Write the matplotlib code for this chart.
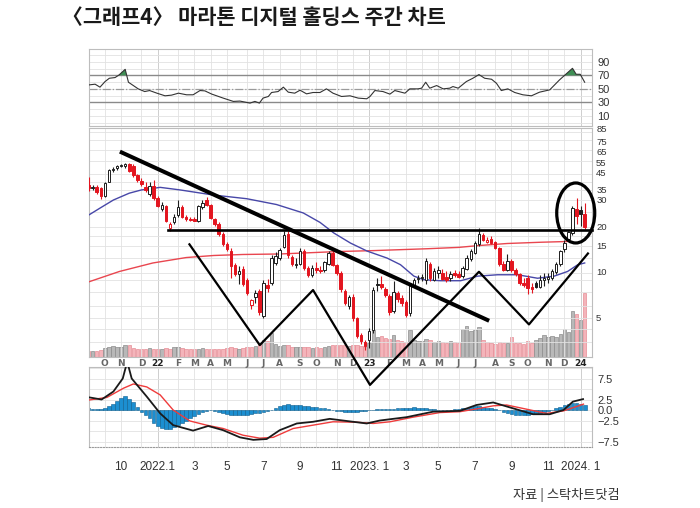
import numpy as np
import pandas as pd
import matplotlib
matplotlib.use('Agg')
import matplotlib.pyplot as plt
from matplotlib import font_manager
from matplotlib.patches import Ellipse
from matplotlib.ticker import NullFormatter

plt.rcParams['font.family'] = ['Noto Sans CJK KR', 'DejaVu Sans']
installed = {f.name for f in font_manager.fontManager.ttflist}
NARROW = 'Liberation Sans Narrow' if 'Liberation Sans Narrow' in installed else 'Liberation Sans'

TITLE = '〈그래프4〉 마라톤 디지털 홀딩스 주간 차트'
SOURCE = '자료 | 스탁차트닷컴'

# weekly candles from the week of 2021-09-06
FIRST_WEEK = '2021-09-06'
opens = [38, 36, 37, 36, 32, 40, 47.5, 49, 50.5, 50.5,
         52, 51, 44, 40.5, 37, 33, 37.5, 31, 26.5, 27.5,
         19.6, 21.5, 24, 27, 23.5, 22.8, 22.8, 22, 27, 30,
         28, 22.5, 21, 18, 15.5, 14, 11.3, 9.8, 10.6, 8.9,
         6.1, 6.9, 7.6, 5.2, 8.3, 8.6, 11.6, 12.6, 14.8, 18,
         12.8, 11.3, 11.5, 14, 10.7, 9.6, 10.7, 10.4, 10.4, 11.5,
         13.6, 11.3, 10, 7.6, 6.0, 6.9, 5.0, 3.9, 3.5, 3.6,
         4.2, 8.4, 8.4, 7.8, 7.0, 5.6, 7.4, 6.8, 6.4, 5.4,
         8.3, 9.1, 9.2, 9.0, 11.5, 9.0, 9.9, 9.9, 9.4, 9.2,
         9.9, 9.8, 9.5, 10.6, 12.3, 13.6, 15.4, 17.8, 15.9, 16.8,
         15.9, 14.6, 11.5, 10.5, 12.0, 10.5, 9.8, 8.6, 9.2, 8.1,
         8.6, 8.1, 8.9, 9.1, 9.2, 10.1, 11.4, 14.3, 16.6, 18.2,
         26.5, 26, 24.3]
highs = [43, 38, 38, 37, 40, 48.5, 50, 51.5, 52, 53,
         53, 52, 45, 42, 39.5, 40, 41, 32, 29.5, 28,
         21.5, 24.5, 30, 28, 24, 23.5, 23.2, 28, 30, 31.5,
         28.5, 23, 21.5, 18.5, 16, 14.5, 11.6, 11, 11, 9.2,
         6.7, 7.7, 7.8, 9, 9.1, 13, 13.8, 14.5, 18.8, 19,
         13, 12.5, 14.5, 14.4, 11, 11.2, 11.8, 11, 12, 14,
         14, 11.5, 10.3, 7.8, 7.1, 7.2, 5.1, 4.0, 3.6, 4.3,
         8.0, 9.2, 9.5, 8.0, 7.2, 8.8, 7.6, 7.1, 6.6, 8.6,
         9.3, 9.6, 9.8, 12.5, 11.8, 10.8, 11, 10.6, 10.3, 10.2,
         10.4, 10.3, 11, 13, 14.3, 16.3, 19.8, 18.3, 17.2, 17.5,
         16.2, 14.9, 12, 13.2, 12.3, 10.8, 10, 9.2, 9.6, 8.5,
         8.8, 9.7, 9.9, 10.0, 10.6, 11.8, 14.2, 16.5, 19, 27.5,
         31, 27.5, 29]
lows = [34.5, 35, 33, 30.5, 31.5, 39.5, 46.5, 48, 50, 49,
        46, 43, 40, 37.5, 34, 32, 30, 27, 25.5, 21.5,
        19, 21, 23.5, 23, 22, 22, 21.8, 21.5, 26.5, 27.5,
        22.5, 20.5, 17.5, 15, 14, 9.2, 9.5, 8.4, 8.2, 7.1,
        5.8, 6.3, 5.3, 5.0, 7.5, 8.3, 11.2, 12.2, 14.5, 12.5,
        11, 10.8, 11.2, 10.5, 9.4, 9.4, 10, 10, 10.1, 11.2,
        11, 9.6, 7.5, 6.1, 5.8, 4.8, 3.7, 3.4, 3.1, 3.2,
        4.0, 7.6, 7.8, 6.9, 5.3, 5.4, 6.4, 6.0, 5.1, 5.2,
        8.0, 8.6, 8.8, 8.4, 8.8, 8.8, 9.2, 8.9, 8.7, 8.8,
        9.4, 9.3, 9.2, 10.4, 12, 13.3, 15, 16.2, 15.6, 15.5,
        14.3, 11.0, 10.2, 10.2, 10.1, 9.5, 8.3, 8.0, 7.2, 7.4,
        7.9, 7.9, 8.2, 8.6, 8.9, 9.8, 11.1, 13.8, 16.2, 17.8,
        21, 20.5, 19.5]
closes = [36, 37, 34, 32, 39, 47.5, 48.5, 50.5, 51, 52,
          47, 44, 41, 38.5, 35, 37.5, 31, 27.5, 28, 22,
          21, 23.5, 27, 23.5, 22.5, 22.4, 22, 27.5, 29, 28,
          23, 21, 18, 15.5, 14.3, 11, 9.8, 10.2, 8.4, 7.4,
          6.6, 7.3, 5.5, 8.6, 7.9, 12.5, 12.9, 14.2, 17.8, 13,
          11.4, 11.5, 14, 10.8, 9.6, 10.7, 10.4, 10.3, 11.8, 13.6,
          11.3, 10, 7.8, 6.3, 6.9, 5.0, 3.85, 3.55, 3.3, 4.1,
          7.7, 8.3, 8.1, 7.1, 5.5, 7.5, 6.7, 6.3, 5.3, 8.3,
          9.0, 9.2, 9.4, 11.9, 9.2, 10.3, 10.5, 9.1, 9.0, 9.8,
          9.7, 9.4, 10.7, 12.5, 13.9, 15.7, 17.9, 16.5, 16.4, 15.8,
          14.6, 11.4, 10.5, 11.9, 10.4, 9.8, 8.5, 8.3, 7.9, 7.8,
          8.0, 9.0, 9.2, 9.4, 10.2, 11.5, 13.9, 15.8, 18.6, 26.7,
          23.7, 24.3, 19.9]
# million shares
volumes = [30, 28, 32, 35, 45, 50, 55, 52, 48, 60,
           62, 45, 42, 40, 38, 45, 42, 38, 40, 45,
           42, 48, 50, 45, 40, 38, 40, 42, 45, 42,
           40, 38, 40, 42, 45, 48, 45, 42, 45, 48,
           50, 55, 70, 85, 80, 120, 65, 55, 60, 58,
           50, 48, 50, 52, 48, 45, 50, 45, 50, 55,
           60, 58, 62, 60, 55, 62, 60, 55, 50, 70,
           135, 100, 105, 95, 90, 110, 85, 80, 75, 135,
           85, 80, 80, 90, 85, 75, 80, 75, 70, 80,
           75, 70, 140, 155, 130, 135, 150, 85, 75, 70,
           65, 75, 70, 68, 100, 70, 72, 65, 80, 70,
           85, 95, 110, 100, 105, 100, 115, 140, 125, 230,
           215, 185, 320]

ma_short_weeks = [0, 2.8, 6.1, 10, 13, 17.6, 22.5, 30.6, 38.9, 46.2, 52.8, 56.9,
                  60.3, 64.4, 68.5, 73.4, 76.7, 80, 82.4, 86.5, 91.5, 95.7, 100.6,
                  105.5, 110.4, 114.5, 117.8, 120.3, 122]
ma_short = [24.0, 26.7, 30.2, 33.5, 35.2, 36.6, 35.2, 32.6, 30.8, 28.2, 24.8, 21.5,
            18.3, 15.7, 13.9, 12.5, 11.3, 9.5, 9.0, 8.86, 8.86, 9.5, 9.7,
            9.7, 9.2, 9.5, 10.2, 11.3, 11.6]
ma_long_weeks = [0, 7.6, 15.8, 24, 30.8, 38, 47, 61.3, 70, 83.2, 91, 95.7, 103, 111.3, 118.5]
ma_long = [8.7, 10.2, 11.6, 12.6, 13.0, 13.2, 13.3, 13.8, 14.0, 14.4, 14.7, 15.1, 15.6, 15.9, 16.1]

rsi_weeks = [0.2, 1.6, 2.8, 4.05, 5.1, 6.5, 7.5, 9.0, 9.8, 11.0,
             12.2, 13.8, 15.0, 16.8, 18.8, 20.4, 22.1, 24.1, 25.7, 27.4,
             28.6, 30.3, 33.1, 35.6, 37.2, 39.7, 40.9, 42.0, 42.9, 44.2,
             45.0, 46.6, 47.9, 49.1, 50.7, 52.0, 53.6, 55.2, 56.9, 58.5,
             60.1, 62.2, 64.3, 66.3, 68.4, 69.2, 70.4, 72.4, 74.1, 75.3,
             77.8, 79.0, 81.0, 81.9, 82.9, 83.9, 85.6, 87.2, 88.8, 89.6,
             90.9, 92.9, 94.5, 96.0, 97.4, 99.1, 100.3, 101.5, 103.1, 104.8,
             106.8, 108.9, 110.9, 113.4, 115.8, 117.9, 119.0, 119.9, 120.9, 122.0]
rsi_values = [55.9, 56.9, 52.5, 60.8, 65.7, 66.7, 70.6, 78.9, 59.8, 54.9,
              50.0, 46.0, 47.5, 43.6, 39.7, 40.7, 43.6, 41.2, 41.2, 47.5,
              47.0, 42.2, 36.3, 31.4, 31.9, 28.9, 31.4, 28.9, 36.3, 38.7,
              44.6, 46.0, 52.5, 45.1, 43.6, 48.0, 42.6, 44.6, 44.6, 50.0,
              43.6, 38.7, 39.7, 36.3, 35.3, 38.7, 47.5, 46.0, 42.2, 47.5,
              43.6, 50.0, 50.0, 51.0, 59.8, 51.0, 54.9, 50.0, 51.0, 53.4,
              51.0, 60.8, 65.7, 71.1, 65.7, 64.2, 58.3, 47.5, 50.0, 44.6,
              41.2, 39.7, 45.1, 48.5, 63.2, 74.5, 80.4, 71.6, 71.6, 59.8]

macd_weeks = [0.2, 3.2, 6.1, 8.4, 9.5, 10.6, 14.3, 17.6, 20.8, 25.7, 29.4, 33.1,
              37.2, 40.5, 43.8, 47, 51.2, 55.2, 59.3, 63.4, 68.4, 71.6, 78.2,
              84.7, 91.3, 95.4, 99.5, 104.4, 109.3, 113.4, 116.8, 119.1, 121.6]
macd_values = [3.0, 2.5, 4.4, 7.5, 11.5, 7.5, 3.2, -0.8, -3.6, -4.9, -3.8, -4.8,
               -6.5, -7.1, -6.9, -4.8, -3.2, -2.8, -2.1, -2.6, -3.2, -2.5, -1.7,
               -0.4, -0.2, 1.2, 1.8, 0.4, -1.0, -1.0, 0.0, 2.0, 2.6]
signal_weeks = [0.2, 4.5, 8.6, 11, 14.3, 17.6, 20.8, 24.9, 29, 33.1, 38, 42.1,
                45.4, 50.3, 55.2, 60.1, 65.9, 70, 74.1, 79.8, 86.4, 91.3, 96.2,
                99.5, 102.8, 107.7, 112.6, 116.8, 119.9, 121.7]
signal_values = [2.4, 3.0, 5.2, 6.2, 5.5, 3.6, 0.0, -2.6, -3.6, -4.4, -6.0, -6.7,
                 -6.5, -4.4, -3.6, -2.8, -2.9, -3.2, -2.8, -1.7, -0.6, -0.4, 0.4,
                 1.0, 1.2, 0.2, -0.8, -0.2, 0.8, 1.4]
macd_hist = [0.4, 0.3, 0.2, 0.3, 0.6, 1.0, 1.5, 2.2, 2.8, 3.3,
             2.7, 1.8, 0.8,
             -0.4, -1.2, -2.0, -3.0, -3.8, -4.2, -4.4, -4.4, -4.0, -3.5, -3.0, -2.5,
             -2.0, -1.5, -1.0, -0.5, -0.2,
             -0.1, -0.3, -0.5, -0.7, -0.9, -1.1, -1.2, -1.3, -1.3, -1.2, -1.0, -0.8,
             -0.6, -0.4, -0.2, 0.1,
             0.5, 0.9, 1.2, 1.4, 1.3, 1.2, 1.1, 1.0, 0.9, 0.8, 0.7, 0.6, 0.5, 0.3,
             0.0, -0.2, -0.3, -0.4, -0.5, -0.5, -0.4, -0.3, -0.2, 0.0, 0.1,
             0.2, 0.2, 0.3, 0.3, 0.3, 0.4, 0.5, 0.6, 0.6, 0.7, 0.6, 0.5, 0.4, 0.3,
             0.2, 0.1, 0.0, 0.0, 0.1, 0.2,
             0.3, 0.4, 0.6, 0.8, 0.9, 0.9, 0.8, 0.6, 0.4, 0.2,
             -0.1, -0.4, -0.7, -0.9, -1.1, -1.2, -1.2, -1.1, -1.0, -0.8, -0.6, -0.4, -0.2,
             0.1, 0.4, 0.7, 1.1, 1.4, 1.6, 1.6, 1.5, 1.2]

price_ticks = [5, 10, 15, 20, 30, 35, 45, 55, 65, 75, 85]
price_grid = [3.5, 4.25, 5, 6, 7.5, 9, 10, 12.5, 15, 17.5, 20, 25, 30, 35, 40, 45,
              55, 65, 75, 85]
rsi_ticks = [10, 30, 50, 70, 90]
macd_ticks = [-7.5, -2.5, 0.0, 2.5, 7.5]
macd_tick_labels = ['\u22127.5', '\u22122.5', '0.0', '2.5', '7.5']
bottom_months = ['2021-11', '2022-01', '2022-03', '2022-05', '2022-07', '2022-09', '2022-11',
                 '2023-01', '2023-03', '2023-05', '2023-07', '2023-09', '2023-11', '2024-01']
bottom_labels = ['10', '2022.1', '3', '5', '7', '9', '11',
                 '2023. 1', '3', '5', '7', '9', '11', '2024. 1']

# pattern lines drawn by hand on the chart, as (week, price)
trend_line = ([7.7, 98.5], [63.0, 4.82])
neckline = ([19.6, 123.8], [19.1, 19.1])
zigzag = ([24.8, 42.1, 55.2, 69.2, 96.0, 108.3, 122.8],
          [15.4, 3.33, 7.69, 1.82, 10.15, 4.56, 13.4])
circle_center = (119.8, 24.8)
circle_size_px = (38, 60)

RED = '#e3151f'
BLACK = '#1e1e1e'
GRID = '#e2e2e2'
YEAR_GRID = '#c6c6c6'
XLIM = (0.1, 123.8)
# vertical nudge (points) of the crowded price labels at the top of the log scale
PRICE_LABEL_NUDGE = {85: 1.5, 75: -1.6, 65: -2.2, 55: -2.0}

FW, FH = 700, 508
fig = plt.figure(figsize=(FW / 100, FH / 100), dpi=100)


def add_panel(top, bottom, left=89, right=592):
    return fig.add_axes([left / FW, 1 - bottom / FH, (right - left) / FW, (bottom - top) / FH])


ax_rsi = add_panel(49, 126)
ax_p = add_panel(128, 357)
ax_m = add_panel(367, 447)
ax_v = ax_p.twinx()
ax_p.set_zorder(3)
ax_p.patch.set_visible(False)

weeks = pd.date_range(FIRST_WEEK, periods=len(closes), freq='W-MON')
x = np.arange(len(weeks))
month_pos = [i for i in x[1:] if weeks[i].month != weeks[i - 1].month]
month_lab = [str(weeks[i].year)[2:] if weeks[i].month == 1 else 'JFMAMJJASOND'[weeks[i].month - 1]
             for i in month_pos]
year_pos = [i for i in month_pos if weeks[i].month == 1]
ym = weeks.strftime('%Y-%m')
bottom_pos = [int(np.argmax(ym == m)) for m in bottom_months]

for ax in (ax_rsi, ax_p, ax_m):
    ax.set_xlim(*XLIM)
    for p in month_pos:
        ax.axvline(p, color=YEAR_GRID if p in year_pos else GRID, lw=0.6, zorder=0)
    for s in ax.spines.values():
        s.set_color('#bdbdbd')
        s.set_linewidth(0.8)
    ax.yaxis.tick_right()
    ax.tick_params(axis='both', which='both', length=0)
    ax.tick_params(axis='y', labelsize=8, labelcolor='#333333', pad=4, labelfontfamily=NARROW)

# RSI panel
rsi_w = np.array(rsi_weeks)
rsi_v = np.array(rsi_values)
ax_rsi.set_ylim(-5, 109)
ax_rsi.set_yticks(rsi_ticks)
ax_rsi.set_yticks(range(0, 110, 10), minor=True)
ax_rsi.grid(axis='y', which='both', color=GRID, lw=0.6)
ax_rsi.set_axisbelow(True)
ax_rsi.set_xticks([])
ax_rsi.axhline(70, color='#8a8a8a', lw=1.0, zorder=1)
ax_rsi.axhline(30, color='#8a8a8a', lw=1.0, zorder=1)
ax_rsi.axhline(50, color='#9a9a9a', lw=0.9, ls='-.', zorder=1)
ax_rsi.fill_between(rsi_w, rsi_v, 70, where=rsi_v > 70, interpolate=True,
                    color='#3f8f55', lw=0, zorder=2)
ax_rsi.plot(rsi_w, rsi_v, color='#333333', lw=0.8, zorder=3)

# price panel
o, h, l, c = (np.array(a, dtype=float) for a in (opens, highs, lows, closes))
prev_c = np.r_[o[0], c[:-1]]
down = c < prev_c
hollow = c >= o
col = np.where(down, RED, BLACK)
face = np.where(hollow, 'white', col)
body_lo = np.minimum(o, c)
body_h = np.maximum(np.abs(c - o), body_lo * 0.015)

ax_v.bar(x, volumes, width=0.85, color=np.where(down, '#f4b4ba', '#b8b8b8'),
         edgecolor=np.where(down, '#e68e97', '#8c8c8c'), linewidth=0.5)
ax_v.set_ylim(0, 1145)
ax_v.set_yticks([])
for s in ax_v.spines.values():
    s.set_visible(False)

ax_p.set_yscale('log')
ax_p.set_ylim(2.78, 90.2)
ax_p.set_yticks(price_grid, minor=True)
ax_p.set_yticks(price_ticks)
ax_p.yaxis.set_major_formatter(NullFormatter())
ax_p.yaxis.set_minor_formatter(NullFormatter())
ax_p.tick_params(axis='y', which='both', length=0)
ax_p.grid(axis='y', which='both', color=GRID, lw=0.6, zorder=0)
for t in price_ticks:
    ax_p.annotate(str(t), xy=(1, t), xycoords=('axes fraction', 'data'),
                  xytext=(3, PRICE_LABEL_NUDGE.get(t, 0)), textcoords='offset points',
                  ha='left', va='center', fontsize=6.8, color='#333333', family=NARROW,
                  annotation_clip=False)

ax_p.plot(ma_long_weeks, ma_long, color='#e9464f', lw=1.0, zorder=3)
ax_p.plot(ma_short_weeks, ma_short, color='#4747a8', lw=1.0, zorder=3)
ax_p.vlines(x, l, h, colors=col, lw=0.8, zorder=4)
ax_p.bar(x, body_h, bottom=body_lo, width=0.62, color=face, edgecolor=col,
         linewidth=0.7, zorder=5)

ax_p.set_xticks(month_pos, labels=month_lab)
ax_p.tick_params(axis='x', length=0, pad=1.5, labelsize=6.5, labelcolor='#666666')
for t, p in zip(ax_p.get_xticklabels(), month_pos):
    t.set_fontweight('bold')
    t.set_fontfamily('DejaVu Sans')
    if p in year_pos:
        t.set_color('#222222')

ax_p.plot(*neckline, color='black', lw=1.9, zorder=6, clip_on=False)
ax_p.plot(*trend_line, color='black', lw=2.9, zorder=6, solid_capstyle='butt', clip_on=False)
ax_p.plot(*zigzag, color='black', lw=1.6, zorder=6, clip_on=False)

ax_px_w = ax_p.get_position().width * FW
ax_px_h = ax_p.get_position().height * FH
cx, cy = ax_p.transAxes.inverted().transform(ax_p.transData.transform(circle_center))
ax_p.add_patch(Ellipse((cx, cy), circle_size_px[0] / ax_px_w, circle_size_px[1] / ax_px_h,
                       transform=ax_p.transAxes, fill=False, ec='black', lw=2.3,
                       zorder=7, clip_on=False))

# MACD panel
ax_m.set_ylim(-8.8, 10.24)
ax_m.set_yticks(macd_ticks, labels=macd_tick_labels)
ax_m.set_yticks(np.arange(-7.5, 10.1, 2.5), minor=True)
ax_m.grid(axis='y', which='both', color=GRID, lw=0.6)
ax_m.set_axisbelow(True)
ax_m.bar(x, macd_hist, width=0.9, color='#1c8fd1', edgecolor='#0e5f8e', linewidth=0.4, zorder=2)
ax_m.plot(signal_weeks, signal_values, color='#ef3b3b', lw=1.0, zorder=3)
ax_m.plot(macd_weeks, macd_values, color='#1a1a1a', lw=1.3, zorder=4)
ax_m.spines['bottom'].set_linestyle((0, (1, 1.5)))
ax_m.spines['bottom'].set_color('#9a9a9a')
ax_m.set_xticks(bottom_pos, labels=bottom_labels)
ax_m.tick_params(axis='x', length=0, pad=10, labelsize=8.5, labelcolor='#333333',
                 labelfontfamily=NARROW)

fig.text(62 / FW, 1 - 18 / FH, TITLE, fontsize=15, fontweight='bold', color='#1a1a1a',
         ha='left', va='center', family=['Noto Sans CJK KR', 'DejaVu Sans'])
fig.text(620 / FW, 1 - 495 / FH, SOURCE, fontsize=9.5, color='#333333', ha='right',
         va='center', family=['Noto Sans CJK KR', 'DejaVu Sans'])

fig.savefig('out.png', dpi=100, facecolor='white')
